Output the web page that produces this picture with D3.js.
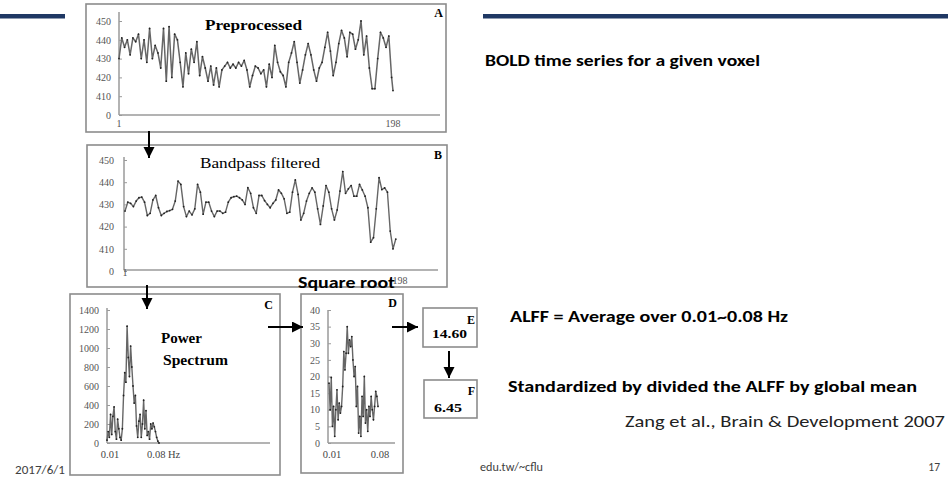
<!DOCTYPE html>
<html><head><meta charset="utf-8">
<script src="https://cdn.jsdelivr.net/npm/d3@7"></script>
<style>body{margin:0;background:#fff}svg{display:block}</style>
</head><body>
<svg id="c" width="948" height="480"></svg>
<script>
// ---------- DATA ----------
// Panel A: preprocessed BOLD signal, read every 2nd scan (1,3,...,197) plus scan 198
const preprocessedValues = [430,441,436,440,432,441,439,443,430,440,428,446,430,437,433,425,446,418,447,420,
  443,440,428,415,433,422,435,428,439,421,431,425,418,426,416,425,415,424,426,428,
  425,427,425,428,426,429,424,415,421,426,425,422,424,415,427,420,437,428,423,421,
  415,428,433,439,428,417,424,432,438,432,424,418,425,428,436,444,434,421,428,438,
  445,441,431,444,443,435,440,450,432,442,425,414,414,430,444,441,436,442,420,413];
// Panel B: bandpass filtered signal, scans 1,3,...,195
const bandpassValues = [427,431,430.5,429,431.5,433,433.3,431,425,426,432,434,428.5,425,426,426.8,427.2,427.8,431.5,440.5,
  439,429,424.5,427,425.3,428,439,435.5,425.6,431,431,427,424.5,427,427,426,426.5,431,433,433.5,
  433.7,433,432,430,437.5,435,428.5,426,434,434,431.7,430,428.5,430.5,432,436.5,435,432.5,426,426.5,
  435.5,441,434.5,423,426,431.5,435,437.4,435.5,428,421,429.3,438.5,435.5,428,423,427.5,436,444.8,435,
  437,438.5,433.7,433.7,439,436.5,433.7,428.5,413,415,428,442,436.7,437.4,435.5,418,410,414.4];
// Panel C: power spectrum, 0.01 - 0.08 Hz
const powerValues = [30,120,60,300,90,280,380,120,40,250,150,60,30,150,500,740,640,1230,900,700,
  1020,800,600,420,500,180,60,230,300,60,200,450,150,340,80,120,40,200,150,210,
  170,120,60,20,0];
// Panel D: square root of the power spectrum, 0.01 - 0.08 Hz
const sqrtValues = [18,10,19.7,5,11,2,10,16,7,12,9,11,17,27.5,22,27,35,27,31,29,
  32,25,20,23,11,17,3,8,2,14,8,20,6,10,3.5,11,8,14,10,7,
  11,15.5,14,11];
const timeTickValues = [400,410,420,430,440,450];
const timeTickLabels = ["0","410","420","430","440","450"];
const powerTicks = [0,200,400,600,800,1000,1200,1400];
const sqrtTicks = [0,5,10,15,20,25,30,35,40];
const scanRange = [1,198];
const freqRange = [0.01,0.08];
const alffValue = "14.60";
const malffValue = "6.45";

// ---------- DRAW ----------
const svg = d3.select("#c");
const navy = "#1f3864";
svg.append("rect").attr("x",0).attr("y",14).attr("width",65).attr("height",4.5).attr("fill",navy);
svg.append("rect").attr("x",483).attr("y",14).attr("width",465).attr("height",4.5).attr("fill",navy);

const defs = svg.append("defs");
defs.append("marker").attr("id","ah").attr("markerUnits","userSpaceOnUse")
  .attr("markerWidth",12).attr("markerHeight",12).attr("refX",11).attr("refY",5.5)
  .attr("orient","auto").append("path").attr("d","M0,0L11,5.5L0,11Z").attr("fill","#000");

const serif = "'Liberation Serif','DejaVu Serif',serif";
const sans = "Carlito,Lato,'Open Sans','Noto Sans',sans-serif";

function box(x0,y0,x1,y1){
  svg.append("rect").attr("x",x0).attr("y",y0).attr("width",x1-x0).attr("height",y1-y0)
    .attr("fill","#fff").attr("stroke","#8c8c8c").attr("stroke-width",1.6);
}
function axisLines(ax, ayTop, ayBot, axRight){
  svg.append("line").attr("x1",ax).attr("x2",ax).attr("y1",ayTop).attr("y2",ayBot)
    .attr("stroke","#9a9a9a").attr("stroke-width",1.5);
  svg.append("line").attr("x1",ax).attr("x2",axRight).attr("y1",ayBot).attr("y2",ayBot)
    .attr("stroke","#9a9a9a").attr("stroke-width",1.5);
}
function yAxis(y, ax, values, labels, pad){
  const a = d3.axisLeft(y).tickValues(values).tickSize(-3).tickSizeOuter(0).tickPadding(pad);
  if (labels) a.tickFormat((d,i)=>labels[i]); else a.tickFormat(d3.format("d"));
  const g = svg.append("g").attr("transform",`translate(${ax},0)`).call(a);
  g.select(".domain").remove();
  g.selectAll("line").attr("stroke","#9a9a9a").attr("stroke-width",1);
  g.selectAll("text").attr("font-family",serif).attr("font-size",10).attr("fill","#555");
}
function trace(xs, ys, x, y, w){
  const pts = xs.map((t,i)=>[t,ys[i]]);
  svg.append("path").attr("d",d3.line().x(d=>x(d[0])).y(d=>y(d[1]))(pts))
    .attr("fill","none").attr("stroke","#666").attr("stroke-width",w).attr("stroke-linejoin","round");
  svg.append("g").selectAll("circle").data(pts).join("circle")
    .attr("cx",d=>x(d[0])).attr("cy",d=>y(d[1])).attr("r",0.9).attr("fill","#222");
}
function txt(x,y,s,o){
  const t = svg.append("text").attr("x",x).attr("y",y).text(s)
    .attr("font-family",o.ff||serif).attr("font-size",o.fs||10).attr("fill",o.fill||"#000")
    .attr("font-weight",o.fw||"normal").attr("text-anchor",o.anchor||"start");
  if (o.len) t.attr("textLength",o.len).attr("lengthAdjust","spacingAndGlyphs");
  return t;
}

// Panel A
box(86,4,446,132);
{
  const x = d3.scaleLinear().domain(scanRange).range([119,393]);
  const y = d3.scaleLinear().domain([400,450]).range([115,21]);
  axisLines(119,12,115,440);
  yAxis(y,119,timeTickValues,timeTickLabels,8);
  const t = d3.range(1,198,2).concat([198]);
  trace(t, preprocessedValues, x, y, 1.5);
  txt(x(1),127,String(scanRange[0]),{anchor:"middle",fill:"#555"});
  txt(x(198),127,String(scanRange[1]),{anchor:"middle",fill:"#555"});
  txt(205,30,"Preprocessed",{fs:15,fw:"bold",len:97});
  txt(443,17,"A",{fs:12,fw:"bold",anchor:"end"});
}
// Panel B
box(87,145,447,287);
{
  const x = d3.scaleLinear().domain(scanRange).range([125,400]);
  const y = d3.scaleLinear().domain([400,450]).range([271,160]);
  axisLines(124,157,270,438);
  yAxis(y,124,timeTickValues,timeTickLabels,10);
  const t = d3.range(1,196,2);
  trace(t, bandpassValues, x, y, 1.4);
  txt(x(1),276,String(scanRange[0]),{anchor:"middle",fill:"#555"});
  txt(x(198),284,String(scanRange[1]),{anchor:"middle",fill:"#555"});
  txt(200,168,"Bandpass filtered",{fs:15.5,len:120});
  txt(442,159,"B",{fs:12,fw:"bold",anchor:"end"});
}
// Panel C
box(70,294,280,475);
{
  const x = d3.scaleLinear().domain(freqRange).range([107,159]);
  const y = d3.scaleLinear().domain([0,1400]).range([443,310]);
  axisLines(107,308,443,270);
  yAxis(y,107,powerTicks,null,8);
  const f = powerValues.map((v,i)=>freqRange[0]+i*(freqRange[1]-freqRange[0])/(powerValues.length-1));
  trace(f, powerValues, x, y, 1.4);
  txt(x(0.01)+3,458,"0.01",{fs:10.5,anchor:"middle",fill:"#444"});
  txt(x(0.08)-12,458,"0.08 Hz",{fs:10.5,fill:"#444"});
  txt(161,343,"Power",{fs:14,fw:"bold",len:41});
  txt(163,365,"Spectrum",{fs:14,fw:"bold",len:65});
  txt(273,309,"C",{fs:12,fw:"bold",anchor:"end"});
}
// Panel D
box(301,294,403,473);
{
  const x = d3.scaleLinear().domain(freqRange).range([329,378]);
  const y = d3.scaleLinear().domain([0,40]).range([443,310]);
  axisLines(328,310,443,395);
  yAxis(y,328,sqrtTicks,null,8);
  const f = sqrtValues.map((v,i)=>freqRange[0]+i*(freqRange[1]-freqRange[0])/(sqrtValues.length-1));
  trace(f, sqrtValues, x, y, 1.4);
  txt(332,458,"0.01",{fs:10.5,anchor:"middle",fill:"#444"});
  txt(380,458,"0.08",{fs:10.5,anchor:"middle",fill:"#444"});
  txt(397,307,"D",{fs:12,fw:"bold",anchor:"end"});
}
// Boxes E, F
box(423,308,477,347);
txt(475,324,"E",{fs:12,fw:"bold",anchor:"end"});
txt(449.5,338,alffValue,{fs:13.5,fw:"bold",anchor:"middle",len:35});
box(424,380,477,418);
txt(475,395,"F",{fs:12,fw:"bold",anchor:"end"});
txt(448,412,malffValue,{fs:13.5,fw:"bold",anchor:"middle",len:28});

// arrows
function arrow(x1,y1,x2,y2){
  svg.append("line").attr("x1",x1).attr("y1",y1).attr("x2",x2).attr("y2",y2)
    .attr("stroke","#000").attr("stroke-width",2).attr("marker-end","url(#ah)");
}
arrow(149,131,149,158);
arrow(147,285,147,309);
arrow(268,327,303,327);
arrow(392,327,418,327);
arrow(449,351,449,378);

// labels
txt(298,288,"Square root",{ff:sans,fs:16,fw:"bold",len:97});
txt(485,65.5,"BOLD time series for a given voxel",{ff:sans,fs:16.5,fw:"bold",len:275});
txt(510,321.5,"ALFF = Average over 0.01~0.08 Hz",{ff:sans,fs:16,fw:"bold",len:278});
txt(508,391.5,"Standardized by divided the ALFF by global mean",{ff:sans,fs:16,fw:"bold",len:409});
txt(625,426.5,"Zang et al., Brain & Development 2007",{ff:sans,fs:16.5,len:320,fill:"#222"});
txt(15,474,"2017/6/1",{ff:sans,fs:11.5,len:50,fill:"#404040"});
txt(480,471,"edu.tw/~cflu",{ff:sans,fs:11.5,len:63,fill:"#404040"});
txt(940,471,"17",{ff:sans,fs:11.5,anchor:"end",fill:"#404040"});
</script>
</body></html>
